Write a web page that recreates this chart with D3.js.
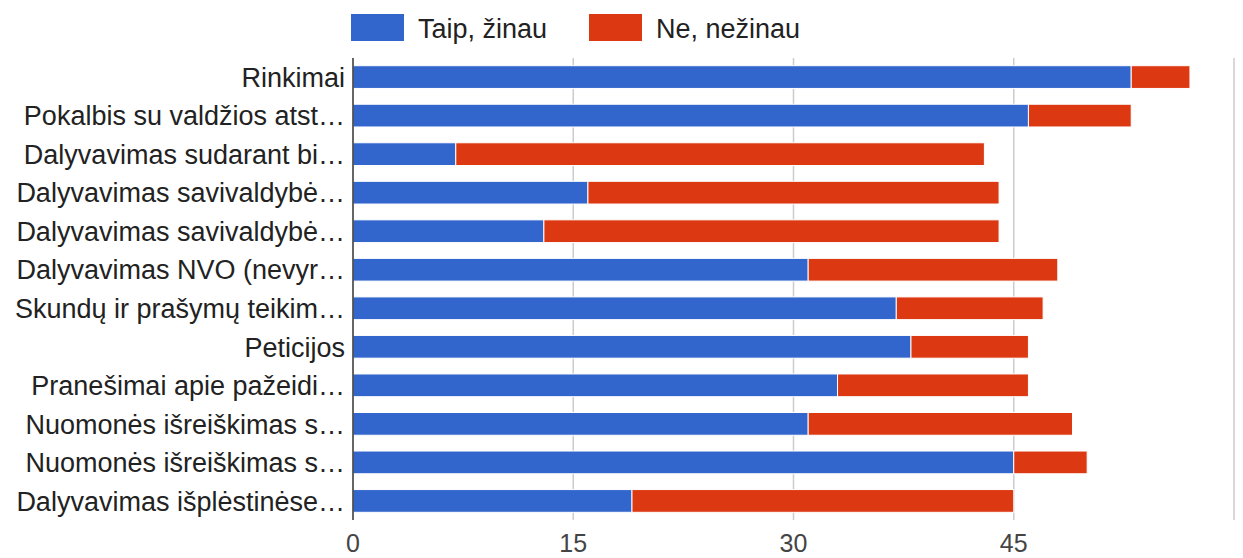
<!DOCTYPE html>
<html>
<head>
<meta charset="utf-8">
<script src="https://cdn.jsdelivr.net/npm/d3@7"></script>
<style>
  body { margin: 0; background: #fff; }
  text { font-family: Arial, "Liberation Sans", sans-serif; }
</style>
</head>
<body>
<svg id="chart" width="1243" height="558"></svg>
<script>
// categories (truncated as in the original)
const categories = [
  'Rinkimai',
  'Pokalbis su valdžios atst…',
  'Dalyvavimas sudarant bi…',
  'Dalyvavimas savivaldybė…',
  'Dalyvavimas savivaldybė…',
  'Dalyvavimas NVO (nevyr…',
  'Skundų ir prašymų teikim…',
  'Peticijos',
  'Pranešimai apie pažeidi…',
  'Nuomonės išreiškimas s…',
  'Nuomonės išreiškimas s…',
  'Dalyvavimas išplėstinėse…'
];
const taip = [53, 46, 7, 16, 13, 31, 37, 38, 33, 31, 45, 19];
const ne   = [4, 7, 36, 28, 31, 17, 10, 8, 13, 18, 5, 26];
const seriesNames = ['Taip, žinau', 'Ne, nežinau'];
const colors = ['#3366cc', '#dc3912'];
const xTicks = [0, 15, 30, 45, 60];

const svg = d3.select('#chart');
const plotLeft = 353, plotRight = 1234, plotTop = 58, plotBottom = 520;

const x = d3.scaleLinear().domain([0, 60]).range([plotLeft, plotRight]);
const y = d3.scaleBand().domain(d3.range(categories.length)).range([plotTop, plotBottom]).paddingInner(0.41).paddingOuter(0.2);

// gridlines
svg.append('g')
  .selectAll('line')
  .data(xTicks.slice(1))
  .join('line')
  .attr('x1', d => x(d)).attr('x2', d => x(d))
  .attr('y1', plotTop).attr('y2', plotBottom)
  .style('stroke', '#cccccc')
  .style('stroke-width', 1.5);

// stacked bars
const rows = categories.map((c, i) => ({i, vals: [taip[i], ne[i]]}));
rows.forEach(r => {
  let acc = 0;
  r.vals.forEach((v, k) => {
    svg.append('rect')
      .attr('x', x(acc))
      .attr('y', y(r.i))
      .attr('width', x(acc + v) - x(acc))
      .attr('height', y.bandwidth())
      .style('fill', colors[k])
      .style('stroke', '#fff')
      .style('stroke-width', 1);
    acc += v;
  });
});

// baseline
svg.append('line')
  .attr('x1', x(0)).attr('x2', x(0))
  .attr('y1', plotTop).attr('y2', plotBottom)
  .style('stroke', '#333')
  .style('stroke-width', 1.5);

// category labels
svg.append('g')
  .selectAll('text')
  .data(categories)
  .join('text')
  .attr('x', plotLeft - 8)
  .attr('y', (d, i) => y(i) + y.bandwidth() / 2)
  .attr('dy', '0.36em')
  .attr('text-anchor', 'end')
  .style('font-size', '27px')
  .style('fill', '#222')
  .text(d => d);

// x axis labels
svg.append('g')
  .selectAll('text')
  .data(xTicks.slice(0, 4))
  .join('text')
  .attr('x', d => x(d))
  .attr('y', 552)
  .attr('text-anchor', 'middle')
  .style('font-size', '25px')
  .style('fill', '#444')
  .text(d => d);

// legend
const legendX = [351, 589];
seriesNames.forEach((name, k) => {
  svg.append('rect')
    .attr('x', legendX[k]).attr('y', 14)
    .attr('width', 53).attr('height', 27)
    .style('fill', colors[k]);
  svg.append('text')
    .attr('x', legendX[k] + 67).attr('y', 28)
    .attr('dy', '0.36em')
    .style('font-size', '27px')
    .style('fill', '#222')
    .text(name);
});
</script>
</body>
</html>
